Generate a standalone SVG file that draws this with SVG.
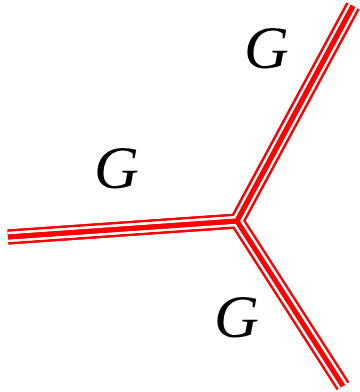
<svg xmlns="http://www.w3.org/2000/svg" xmlns:xlink="http://www.w3.org/1999/xlink" width="360" height="392" viewBox="0 0 360 392">
  <style>
    .lbl { font-family: "Liberation Serif", "Times New Roman", serif; font-style: italic; font-size: 62px; fill: #000; }
    .outer { fill: none; stroke: #ff0000; stroke-width: 15; stroke-linejoin: miter; stroke-linecap: butt; }
    .gap { fill: none; stroke: #ffffff; stroke-width: 10; stroke-linejoin: miter; stroke-linecap: butt; }
    .core { fill: none; stroke: #ff0000; stroke-width: 5; stroke-linejoin: miter; stroke-linecap: butt; }
  </style>
  <defs>
    <path id="p1" d="M8,237 L237,221 L353,6"/>
    <path id="p2" d="M8,237 L237,221 L343,386"/>
    <path id="p3" d="M353,6 L237,221 L343,386"/>
  </defs>
  <rect width="360" height="392" fill="#ffffff"/>
  <g id="connectors">
    <use xlink:href="#p1" class="outer"/>
    <use xlink:href="#p2" class="outer"/>
    <use xlink:href="#p3" class="outer"/>
    <use xlink:href="#p1" class="gap"/>
    <use xlink:href="#p2" class="gap"/>
    <use xlink:href="#p3" class="gap"/>
    <use xlink:href="#p1" class="core"/>
    <use xlink:href="#p2" class="core"/>
    <use xlink:href="#p3" class="core"/>
  </g>
  <g id="label-top"><text class="lbl" x="244" y="68">G</text></g>
  <g id="label-left"><text class="lbl" x="94" y="188">G</text></g>
  <g id="label-bottom"><text class="lbl" x="214" y="337">G</text></g>
</svg>
